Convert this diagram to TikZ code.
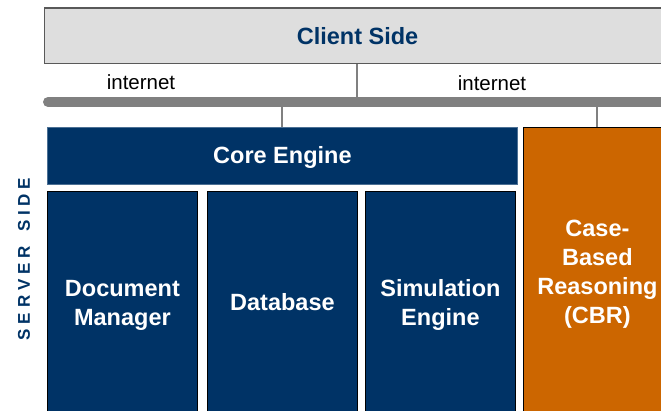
\documentclass[tikz,border=0pt]{standalone}
\usepackage{fontspec}
\setmainfont{Liberation Sans}
\definecolor{navy}{RGB}{0,51,102}
\definecolor{rust}{RGB}{204,102,0}
\definecolor{clientgray}{RGB}{222,222,222}
\definecolor{wire}{RGB}{128,128,128}
\newcommand{\tracked}{\kern4.8pt}
\newcommand{\lowered}[1]{\raisebox{-2pt}[\height][\depth]{#1}}
\begin{document}
\begin{tikzpicture}[x=1pt,y=-1pt,
  box/.style={draw=black, line width=0.8pt, fill=navy, text=white,
    font=\bfseries\fontsize{23.5}{29}\selectfont, align=center,
    inner sep=0pt, anchor=north west},
  wirelink/.style={draw=wire, line width=2.6pt},
  netlabel/.style={font=\fontsize{20.5}{24}\selectfont, text=black, inner sep=0pt}]
\useasboundingbox (0,0) rectangle (661,411);

% client tier
\node[box, draw=black!65, line width=1.2pt, fill=clientgray, text=navy,
  minimum width=626pt, minimum height=55.5pt] (client) at (44,7.5) {Client Side};

% network backbone
\coordinate (barL) at (48,102);
\coordinate (barR) at (680,102);
\draw[wire, line width=10pt, line cap=round] (barL) -- (barR);
\coordinate (tapClient) at (357,97);
\coordinate (tapCore) at (282,107);
\coordinate (tapCBR) at (597,107);

\node[netlabel] (net1) at (141,82) {internet};
\node[netlabel] (net2) at (492,83) {internet};

% server tier
\node[box, draw=navy!70!white, minimum width=470pt, minimum height=57pt] (core) at (47,127) {\lowered{Core Engine}};
\node[box, minimum width=150pt, minimum height=228pt] (docman) at (47,191) {Document\\Manager};
\node[box, minimum width=150pt, minimum height=222pt] (db) at (207,191) {Database};
\node[box, minimum width=150pt, minimum height=228pt] (sim) at (365,191) {Simulation\\Engine};
\node[box, fill=rust, minimum width=148pt, minimum height=294pt] (cbr) at (523,127) {Case-\\Based\\Reasoning\\(CBR)};

\node[rotate=90, text=navy, inner sep=0pt, font=\bfseries\fontsize{17}{20}\selectfont] (server) at (24,259)
  {S\tracked E\tracked R\tracked V\tracked E\tracked R\tracked\ \tracked S\tracked I\tracked D\tracked E};

% links to the backbone
\draw[wirelink] (client.south -| tapClient) -- (tapClient);
\draw[wirelink] (tapCore) -- (core.north -| tapCore);
\draw[wirelink] (tapCBR) -- (cbr.north -| tapCBR);
\end{tikzpicture}
\end{document}
